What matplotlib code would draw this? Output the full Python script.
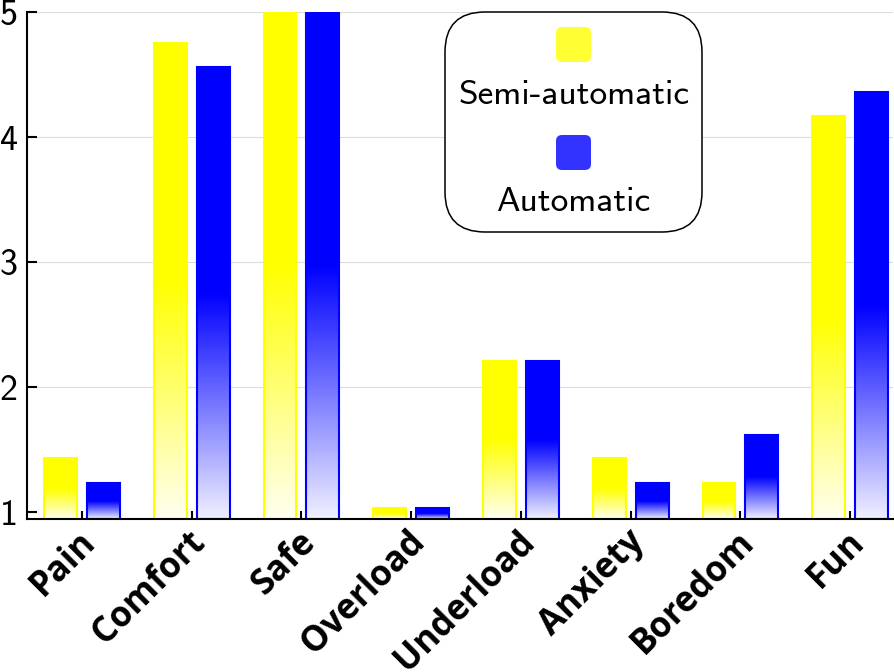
import matplotlib
matplotlib.use("Agg")
import matplotlib.pyplot as plt
import numpy as np
from matplotlib.patches import FancyBboxPatch
from matplotlib.colors import to_rgb
import matplotlib.transforms as mtransforms

categories = ["Pain", "Comfort", "Safe", "Overload", "Underload", "Anxiety", "Boredom", "Fun"]
semi_auto = [1.43, 4.75, 5.0, 1.03, 2.21, 1.43, 1.23, 4.17]
automatic = [1.23, 4.56, 5.0, 1.03, 2.21, 1.23, 1.62, 4.36]
series_names = ["Semi-automatic", "Automatic"]
series_colors = ["#ffff00", "#0000ff"]
yticks = [1, 2, 3, 4, 5]

plt.rcParams['axes.unicode_minus'] = False

W, H = 894, 672
fig = plt.figure(figsize=(W / 100, H / 100), dpi=100)
ax = fig.add_axes([27 / W, 1 - 519 / H, (893 - 27) / W, (519 - 12) / H])

YMIN, YMAX = 0.944, 5.0
XMIN, XMAX = -0.5, 7.39
ax.set_xlim(XMIN, XMAX)
ax.set_ylim(YMIN, YMAX)
ax.autoscale(False)

x = np.arange(len(categories))
offset = 0.195
bw = 0.30


def gradient_bars(xpos, vals, color):
    rgb = np.array(to_rgb(color))
    white = np.ones(3)
    bars = ax.bar(xpos, np.array(vals) - YMIN, width=bw, bottom=YMIN, fill=False,
                  edgecolor=color, linewidth=1.5, zorder=3)
    for rect in bars:
        x0 = rect.get_x()
        x1 = x0 + rect.get_width()
        y0 = rect.get_y()
        y1 = y0 + rect.get_height()
        n = 256
        t = np.linspace(0, 1, n)
        f = np.clip(t * 2, 0, 1)  # bottom half gradient, top half solid
        light = 0.94 * white + 0.06 * rgb
        cols = light[None, :] * (1 - f[:, None]) + rgb[None, :] * f[:, None]
        img = cols[:, None, :]
        ax.imshow(img, extent=(x0, x1, y0, y1), origin='lower', aspect='auto',
                  interpolation='bilinear', zorder=2)
    return bars


gradient_bars(x - offset, semi_auto, series_colors[0])
gradient_bars(x + offset, automatic, series_colors[1])
ax.set_xlim(XMIN, XMAX)
ax.set_ylim(YMIN, YMAX)

# grid
for yv in yticks[1:]:
    ax.axhline(yv, color="#dcdcdc", linewidth=0.8, zorder=1)

for s in ["top", "right"]:
    ax.spines[s].set_visible(False)
for s in ["left", "bottom"]:
    ax.spines[s].set_linewidth(1.5)
    ax.spines[s].set_zorder(5)

ax.set_yticks(yticks)
ax.set_yticklabels([str(v) for v in yticks], fontfamily="cmss10", fontsize=26)
ax.tick_params(axis='y', direction='in', length=7, width=1.5, pad=6.5)
ax.set_xticks(x)
ax.set_xticklabels([])
ax.tick_params(axis='x', direction='in', length=5.5, width=1.5)

# x labels
for xi, lab in zip(x, categories):
    off = mtransforms.offset_copy(ax.get_xaxis_transform(), fig=fig, x=-4, y=-5, units='dots')
    ax.text(xi, 0, lab, transform=off, rotation=45, rotation_mode='anchor',
            ha='right', va='top', fontfamily="Open Sans", fontweight='bold', fontsize=25)

# legend (drawn in pixel-based inches)
tr = fig.dpi_scale_trans


def px(xp, yp):
    return xp / 100, (H - yp) / 100


bx0, by0 = px(445, 232)
box = FancyBboxPatch((bx0, by0), 2.57, 2.20, boxstyle="round,pad=0,rounding_size=0.40",
                     transform=tr, facecolor="white", edgecolor="black", linewidth=1.1, zorder=10)
fig.patches.append(box)

patch_tops = [27, 135]
baselines = [104, 211]
for name, col, pt, bl in zip(series_names, series_colors, patch_tops, baselines):
    px0, py0 = px(556, pt + 35)
    p = FancyBboxPatch((px0, py0), 0.35, 0.35, boxstyle="round,pad=0,rounding_size=0.06",
                       transform=tr, facecolor=col, alpha=0.8, edgecolor="none", zorder=11)
    fig.patches.append(p)
    tx, ty = px(573.5, bl)
    fig.text(tx / (W / 100), ty / (H / 100), name, ha='center', va='baseline',
             fontfamily="cmss10", fontsize=25.5, zorder=12)

fig.savefig("out.png", dpi=100)
